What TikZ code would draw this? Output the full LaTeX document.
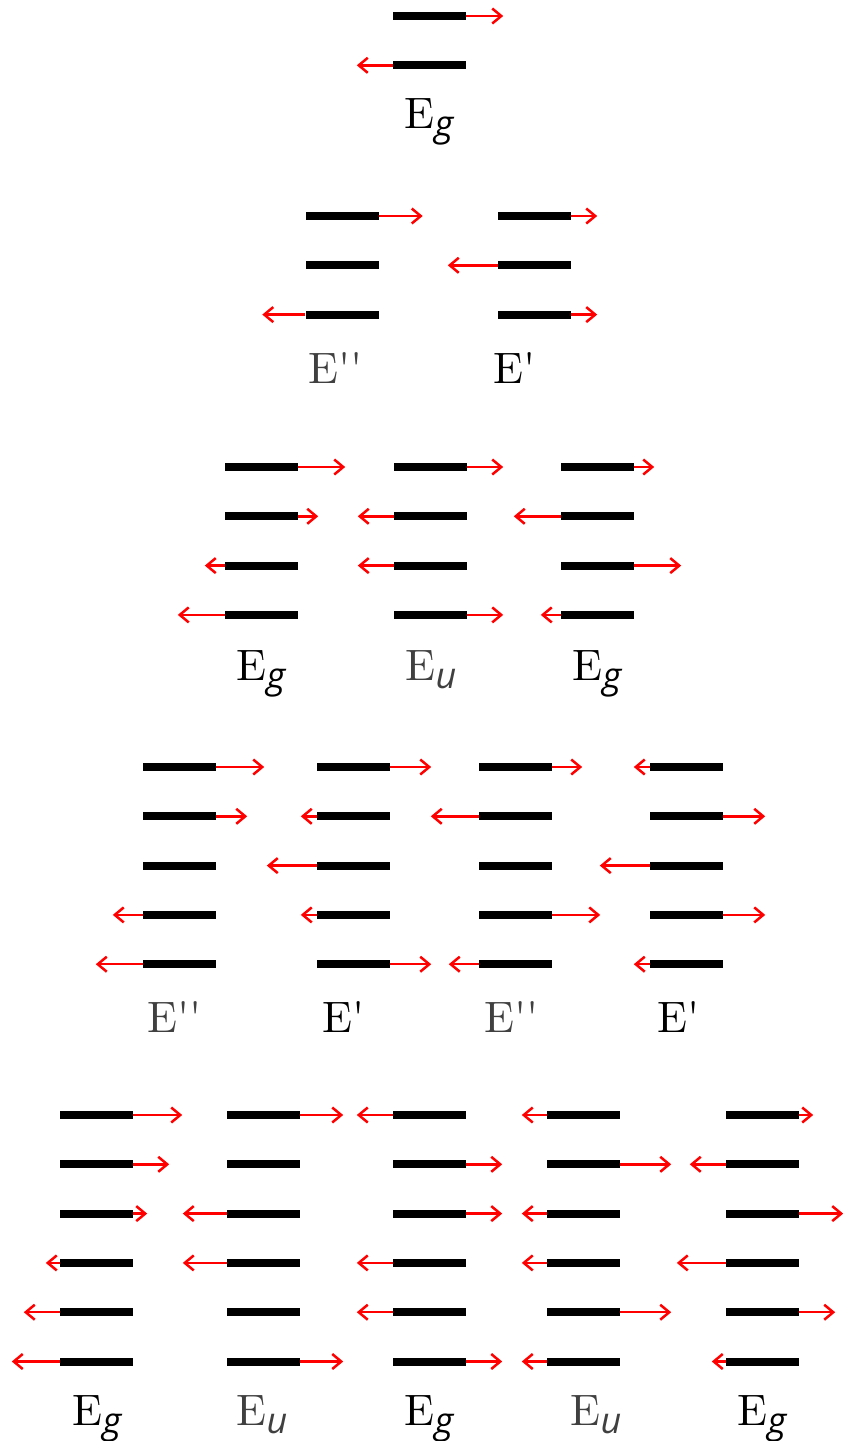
\documentclass[tikz,border=0pt]{standalone}
\usepackage{fontspec}
\usepackage{tikz}
\usetikzlibrary{arrows.meta}
\newfontfamily\irrfont{lmroman10-regular}[Extension=.otf]
\newfontfamily\subfont{Open Sans}
\definecolor{modeRed}{HTML}{FF0000}
\definecolor{modeInk}{HTML}{000000}
\definecolor{modeGray}{HTML}{404040}
\newcommand{\Eirr}[1]{E\raisebox{-8pt}{\subfont\itshape\fontsize{36}{36}\selectfont #1}}
\newcommand{\Eprime}{E\textquotesingle}
\newcommand{\Edprime}{E\textquotesingle\textquotesingle}
\tikzset{
    layer/.style={fill=modeInk, inner sep=0pt, minimum width=73pt, minimum height=8pt},
    disp/.style={-{Straight Barb[length=9pt,width=15pt]}, line width=2.5pt, draw=modeRed},
    irrep/.style={anchor=base, inner sep=0pt, text=modeInk, font=\irrfont\fontsize{44}{50}\selectfont},
    irrepgray/.style={irrep, text=modeGray}
}
% one stack of layers: name, centre x, top y, signed displacements
\newcommand{\layerstack}[4]{%
  \foreach \dx [count=\i] in {#4} {
    \node[layer] (#1-\i) at (#2,{#3+49.3*(\i-1)}) {};
    \ifnum\dx>0 \draw[disp] (#1-\i.east) -- ++(\dx,0); \fi
    \ifnum\dx<0 \draw[disp] (#1-\i.west) -- ++(\dx,0); \fi
  }%
}

\begin{document}
\begin{tikzpicture}[x=1pt,y=-1pt]
\useasboundingbox (0,0) rectangle (843,1441);
% bilayer
\layerstack{s11}{429.5}{16}{37,-36}
\node[irrep] (s11-lab) at (429,128) {\Eirr{g}};
% trilayer
\layerstack{s21}{342}{216}{44,0,-43}
\layerstack{s22}{534.5}{216}{26,-50,26}
\node[irrepgray] (s21-lab) at (336,383) {\Edprime};
\node[irrep] (s22-lab) at (515,383) {\Eprime};
% four layers
\layerstack{s31}{261.5}{467}{47,20,-20,-47}
\layerstack{s32}{430.5}{467}{36,-36,-36,36}
\layerstack{s33}{597.5}{467}{20,-47,47,-20}
\node[irrep] (s31-lab) at (261,680) {\Eirr{g}};
\node[irrepgray] (s32-lab) at (431,680) {\Eirr{u}};
\node[irrep] (s33-lab) at (597,680) {\Eirr{g}};
% five layers
\layerstack{s41}{179.5}{767}{48,31,0,-30,-47}
\layerstack{s42}{353.5}{767}{41,-16,-50,-16,41}
\layerstack{s43}{515.5}{767}{30,-48,0,48,-30}
\layerstack{s44}{686.5}{767}{-16,42,-50,42,-16}
\node[irrepgray] (s41-lab) at (174.5,1032) {\Edprime};
\node[irrep] (s42-lab) at (344,1032) {\Eprime};
\node[irrepgray] (s43-lab) at (511.5,1032) {\Edprime};
\node[irrep] (s44-lab) at (679,1032) {\Eprime};
% six layers
\layerstack{s51}{96.5}{1115}{49,36,14,-14,-36,-48}
\layerstack{s52}{263.5}{1115}{43,0,-44,-44,0,43}
\layerstack{s53}{429.5}{1115}{-36,36,36,-36,-36,36}
\layerstack{s54}{583.5}{1115}{-25,51,-25,-25,51,-25}
\layerstack{s55}{762.5}{1115}{14,-36,44,-49,36,-14}
\node[irrep] (s51-lab) at (97,1425) {\Eirr{g}};
\node[irrepgray] (s52-lab) at (262,1425) {\Eirr{u}};
\node[irrep] (s53-lab) at (429,1425) {\Eirr{g}};
\node[irrepgray] (s54-lab) at (596,1425) {\Eirr{u}};
\node[irrep] (s55-lab) at (762,1425) {\Eirr{g}};
\end{tikzpicture}
\end{document}
